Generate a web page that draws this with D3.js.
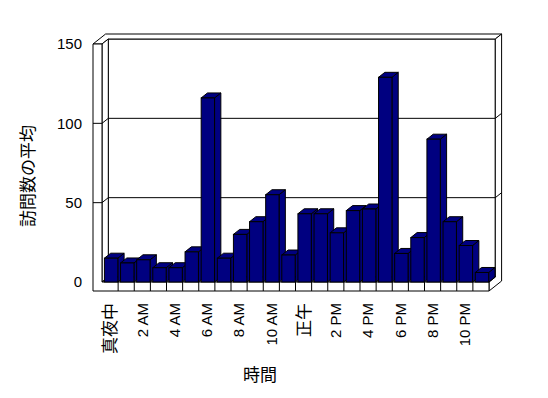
<!DOCTYPE html>
<html lang="ja">
<head>
	<meta charset="utf-8">
	<title>訪問数の平均</title>
	<style>
		body { margin: 0; background: #fff; }
		text { font-family: "Liberation Sans", "Noto Sans CJK JP", sans-serif; fill: #000; }
	</style>
	<script type="text/javascript" src="https://d3js.org/d3.v7.min.js"></script>
</head>
<body>
	<script type="text/javascript">
            // hour of day, one bar each
            var categories = ["真夜中", "1 AM", "2 AM", "3 AM", "4 AM", "5 AM", "6 AM", "7 AM", "8 AM", "9 AM", "10 AM", "11 AM",
                "正午", "1 PM", "2 PM", "3 PM", "4 PM", "5 PM", "6 PM", "7 PM", "8 PM", "9 PM", "10 PM", "11 PM"];
            var visits = [15, 12, 14, 9, 9, 19, 116, 15, 30, 38, 55, 17,
                43, 43, 31, 45, 46, 129, 18, 28, 90, 38, 23, 6];
            var tickLabels = ["真夜中", "2 AM", "4 AM", "6 AM", "8 AM", "10 AM", "正午", "2 PM", "4 PM", "6 PM", "8 PM", "10 PM"];
            var yTicks = [0, 50, 100, 150];

            var w = 548;
            var h = 398;
            // front plane box + depth offset of the 3d look
            var L = 93, Li = 102, R = 489;
            var yTop = 44, yF = 282, yB = 291;
            var dx = 6.3, dy = -5;

            var x = d3.scaleBand()
                .domain(categories)
                .range([Li, R]);
            var y = d3.scaleLinear()
                .domain([0, 150])
                .range([yF, yTop]);
            var bw = x.bandwidth();
            var barOff = bw * 0.15;
            var barW = bw * 0.83;

            var svg = d3.select("body")
                .append("svg")
                .attr("width", w)
                .attr("height", h);

            var pts = p => p.map(q => q.join(",")).join(" ");
            var walls = [
                // back wall
                [[Li + dx, yTop + dy], [R + dx, yTop + dy], [R + dx, yF + dy], [Li + dx, yF + dy]],
                // top of left + back wall
                [[L, yTop], [Li, yTop], [Li + dx, yTop + dy], [R + dx, yTop + dy], [R + 2 * dx, yTop + 2 * dy], [L + 2 * dx, yTop + 2 * dy]],
                // right side of back wall and floor
                [[R + dx, yTop + dy], [R + 2 * dx, yTop + 2 * dy], [R + 2 * dx, yB + 2 * dy], [R, yB], [R, yF], [R + dx, yF + dy]],
                // inner side of left wall
                [[Li, yTop], [Li + dx, yTop + dy], [Li + dx, yF + dy], [Li, yF]],
                // floor top
                [[Li, yF], [R, yF], [R + dx, yF + dy], [Li + dx, yF + dy]],
                // front edge of left wall and floor
                [[L, yTop], [Li, yTop], [Li, yF], [R, yF], [R, yB], [L, yB]]
            ];
            svg.append("g")
                .selectAll("polygon")
                .data(walls)
                .enter()
                .append("polygon")
                .attr("points", d => pts(d))
                .attr("fill", "white")
                .attr("stroke", "black")
                .attr("stroke-width", 1)
                .attr("stroke-linejoin", "miter");

            // gridlines run over the left wall, back wall and right side
            svg.append("g")
                .selectAll("polyline")
                .data([50, 100])
                .enter()
                .append("polyline")
                .attr("points", v => pts([[L, y(v)], [Li, y(v)], [Li + dx, y(v) + dy], [R + dx, y(v) + dy], [R + 2 * dx, y(v) + 2 * dy]]))
                .attr("fill", "none")
                .attr("stroke", "black");

            // dividers on the front of the floor
            svg.append("g")
                .selectAll("line")
                .data(categories.slice(1))
                .enter()
                .append("line")
                .attr("x1", d => x(d))
                .attr("x2", d => x(d))
                .attr("y1", yF)
                .attr("y2", yB)
                .attr("stroke", "black");

            // bars, left to right so each front covers the previous side
            var bars = svg.append("g")
                .selectAll("g")
                .data(visits)
                .enter()
                .append("g")
                .attr("fill", "#000080")
                .attr("stroke", "black")
                .attr("stroke-linejoin", "miter");
            bars.append("polygon")
                .attr("points", (d, i) => {
                    var x0 = x(categories[i]) + barOff + barW;
                    return pts([[x0, y(d)], [x0 + dx, y(d) + dy], [x0 + dx, yF + dy], [x0, yF]]);
                });
            bars.append("polygon")
                .attr("points", (d, i) => {
                    var x0 = x(categories[i]) + barOff;
                    return pts([[x0, y(d)], [x0 + barW, y(d)], [x0 + barW + dx, y(d) + dy], [x0 + dx, y(d) + dy]]);
                });
            bars.append("rect")
                .attr("x", (d, i) => x(categories[i]) + barOff)
                .attr("y", d => y(d))
                .attr("width", barW)
                .attr("height", d => yF - y(d));

            // y axis labels
            var yAxis = d3.axisLeft(y)
                .tickValues(yTicks)
                .tickSize(0)
                .tickPadding(11);
            svg.append("g")
                .attr("transform", "translate(" + L + ",0)")
                .call(yAxis)
                .call(g => g.select(".domain").remove())
                .selectAll("text")
                .attr("font-family", null)
                .attr("font-size", "15px");

            // x axis labels, rotated
            var xAxis = d3.axisBottom(x)
                .tickValues(tickLabels)
                .tickSize(0);
            svg.append("g")
                .attr("transform", "translate(0,303)")
                .call(xAxis)
                .call(g => g.select(".domain").remove())
                .selectAll("text")
                .attr("font-family", null)
                .attr("font-size", d => /[^\x00-\x7f]/.test(d) ? "17px" : "15px")
                .attr("transform", "rotate(-90)")
                .attr("x", 0)
                .attr("y", 0)
                .attr("dy", "0.35em")
                .attr("text-anchor", "end");

            svg.append("text")
                .attr("transform", "translate(28,176) rotate(-90)")
                .attr("text-anchor", "middle")
                .attr("dominant-baseline", "central")
                .attr("font-size", "17px")
                .text("訪問数の平均");

            svg.append("text")
                .attr("x", 260)
                .attr("y", 375)
                .attr("text-anchor", "middle")
                .attr("dominant-baseline", "central")
                .attr("font-size", "17px")
                .text("時間");
        </script>
</body>
</html>
